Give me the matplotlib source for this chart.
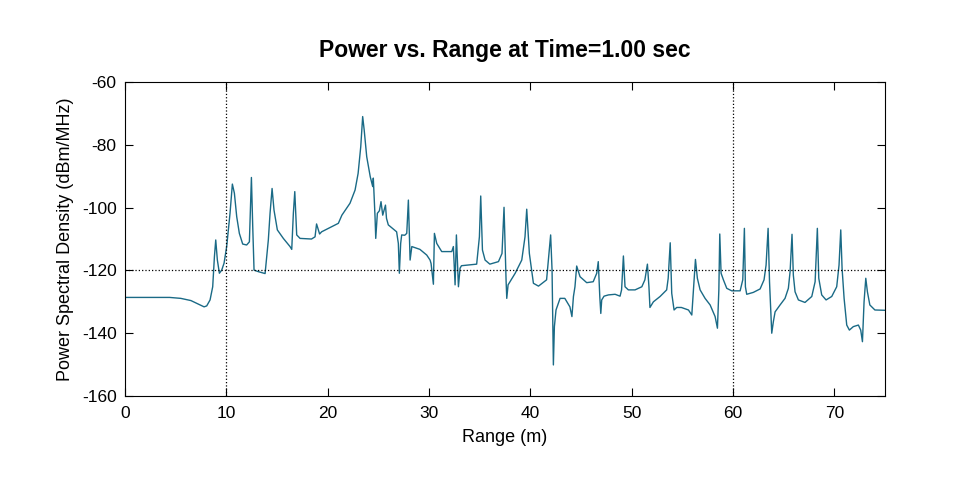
import matplotlib
matplotlib.use("Agg")
import matplotlib.pyplot as plt

plt.rcParams['font.family'] = ['Liberation Sans', 'DejaVu Sans']
plt.rcParams['axes.unicode_minus'] = False

# range (m) and power spectral density (dBm/MHz)
range_m = [0.0, 2.0, 4.4, 5.5, 6.5, 7.4, 7.8, 8.06, 8.39, 8.65,
           8.82, 8.95, 9.11, 9.31, 9.54, 9.77, 10.03, 10.36, 10.59, 10.79,
           11.02, 11.28, 11.61, 12.0, 12.27, 12.47, 12.6, 12.73, 13.16, 13.82,
           14.14, 14.31, 14.51, 14.7, 15.03, 15.62, 16.28, 16.45, 16.61, 16.75,
           16.94, 17.27, 18.4, 18.75, 18.9, 19.2, 19.4, 21.05, 21.4, 22.2,
           22.7, 23.0, 23.26, 23.45, 23.6, 23.85, 24.2, 24.44, 24.5, 24.67,
           24.74, 24.9, 25.1, 25.26, 25.43, 25.7, 25.8, 25.98, 26.8, 26.97,
           27.07, 27.2, 27.3, 27.6, 27.8, 27.96, 28.13, 28.3, 29.1, 29.77,
           30.1, 30.2, 30.43, 30.53, 30.76, 31.25, 32.24, 32.4, 32.57, 32.7,
           32.9, 33.06, 33.2, 34.7, 34.97, 35.1, 35.27, 35.53, 36.0, 36.85,
           37.2, 37.4, 37.6, 37.67, 37.8, 38.5, 39.15, 39.47, 39.64, 39.9,
           40.3, 40.8, 41.6, 42.0, 42.14, 42.27, 42.37, 42.53, 42.93, 43.4,
           43.9, 44.1, 44.25, 44.4, 44.57, 44.9, 45.56, 46.2, 46.55, 46.7,
           46.85, 46.95, 47.04, 47.27, 47.7, 48.36, 48.85, 49.0, 49.18, 49.34,
           49.67, 50.33, 51.0, 51.3, 51.55, 51.7, 51.8, 52.14, 52.8, 53.45,
           53.6, 53.8, 53.95, 54.18, 54.44, 54.9, 55.6, 55.93, 56.09, 56.29,
           56.48, 56.75, 57.24, 57.74, 58.23, 58.46, 58.6, 58.69, 58.82, 59.05,
           59.38, 59.87, 60.7, 60.96, 61.12, 61.22, 61.35, 62.0, 62.67, 63.06,
           63.26, 63.46, 63.6, 63.82, 63.98, 64.15, 64.64, 65.13, 65.46, 65.63,
           65.82, 65.95, 66.12, 66.45, 67.1, 67.77, 68.1, 68.32, 68.46, 68.75,
           69.18, 69.74, 70.23, 70.46, 70.63, 70.76, 70.96, 71.22, 71.48, 71.87,
           72.37, 72.6, 72.77, 72.93, 73.1, 73.26, 73.5, 74.0, 75.0]
psd = [-128.6, -128.6, -128.6, -128.9, -129.6, -131.0, -131.6, -131.3, -129.4, -125.2,
       -115.6, -110.3, -116.7, -120.9, -119.9, -117.7, -112.4, -101.8, -92.5, -95.4,
       -102.9, -108.2, -111.6, -111.9, -110.9, -90.4, -106.0, -119.9, -120.4, -121.0,
       -110.3, -101.8, -93.9, -100.8, -107.1, -109.8, -112.4, -113.3, -101.8, -94.9,
       -108.7, -109.8, -110.0, -109.3, -105.2, -108.4, -107.7, -105.0, -102.4, -98.6,
       -94.4, -89.1, -80.6, -71.0, -75.3, -83.8, -90.2, -93.3, -90.6, -102.9,
       -109.8, -101.8, -101.0, -98.1, -102.4, -99.2, -103.4, -105.5, -107.7, -111.4,
       -120.9, -111.4, -108.7, -108.8, -108.2, -97.6, -116.7, -112.4, -113.3, -115.1,
       -116.7, -117.8, -124.4, -108.2, -111.4, -114.0, -114.0, -112.4, -124.6, -108.7,
       -125.2, -119.3, -118.5, -118.0, -109.3, -96.3, -113.5, -116.7, -118.0, -117.2,
       -114.6, -99.9, -123.0, -128.9, -124.6, -120.9, -116.7, -109.3, -100.5, -114.6,
       -124.1, -125.0, -123.0, -108.7, -119.9, -150.1, -137.9, -132.6, -128.9, -128.9,
       -131.6, -134.7, -128.3, -125.2, -118.6, -122.0, -123.9, -123.6, -120.9, -117.2,
       -128.3, -133.7, -129.4, -128.2, -127.8, -127.6, -128.2, -126.2, -115.4, -125.2,
       -126.2, -126.2, -125.2, -123.0, -118.0, -125.2, -131.8, -130.0, -128.3, -126.2,
       -122.5, -111.2, -127.3, -132.6, -131.8, -131.8, -132.6, -134.2, -126.2, -116.5,
       -122.5, -126.2, -128.9, -131.0, -134.7, -138.4, -126.2, -108.4, -120.9, -123.0,
       -125.7, -126.5, -126.5, -123.0, -106.6, -125.2, -127.6, -127.0, -125.9, -123.0,
       -118.3, -106.6, -123.6, -140.0, -136.3, -133.2, -131.0, -128.9, -125.7, -120.4,
       -108.5, -121.5, -126.8, -129.4, -130.2, -128.3, -123.6, -106.6, -122.5, -127.8,
       -129.4, -128.3, -125.2, -118.3, -107.1, -119.3, -128.9, -137.4, -139.0, -137.9,
       -137.4, -139.0, -142.7, -130.0, -122.5, -126.8, -131.0, -132.6, -132.7]

marker_ranges = [10, 60]
marker_level = -120

fig = plt.figure(figsize=(9.8, 4.9), dpi=100)
ax = fig.add_axes([0.1276, 0.1918, 0.7755, 0.6408])

ax.plot(range_m, psd, color='#1a6a86', linewidth=1.0)
for xr in marker_ranges:
    ax.axvline(xr, color='black', linestyle=':', linewidth=0.9)
ax.axhline(marker_level, color='black', linestyle=':', linewidth=0.9)

ax.set_xlim(0, 75)
ax.set_ylim(-160, -60)
ax.set_xticks(range(0, 71, 10))
ax.set_yticks(range(-160, -59, 20))
ax.tick_params(direction='in', top=True, right=True, labelsize=12.5, length=6)
ax.tick_params(axis='x', pad=7)
ax.tick_params(axis='y', pad=6)
for s in ax.spines.values():
    s.set_linewidth(0.8)

ax.set_title('Power vs. Range at Time=1.00 sec', fontsize=16.5, fontweight='bold', pad=18)
ax.set_xlabel('Range (m)', fontsize=13, labelpad=6)
ax.set_ylabel('Power Spectral Density (dBm/MHz)', fontsize=13, labelpad=6)

fig.savefig('out.png', dpi=100)
